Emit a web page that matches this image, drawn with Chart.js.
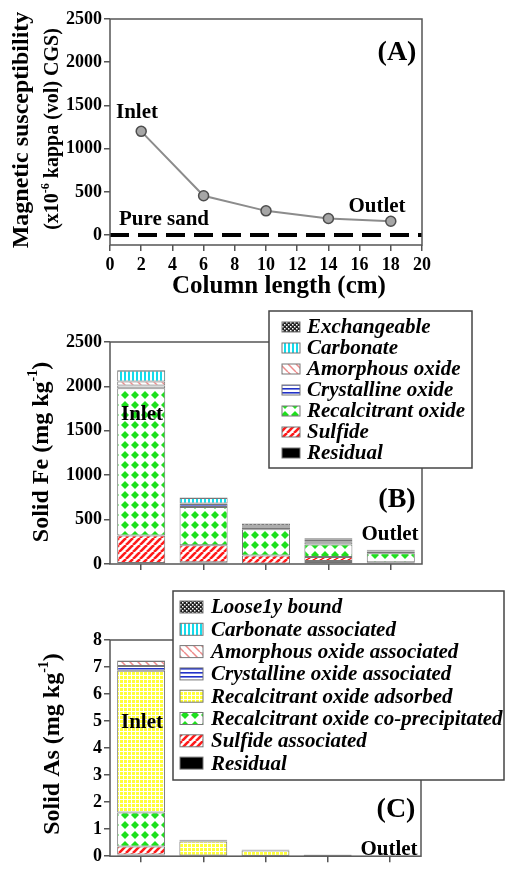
<!DOCTYPE html>
<html>
<head>
<meta charset="utf-8">
<script src="https://cdn.jsdelivr.net/npm/chart.js@4.4.1/dist/chart.umd.min.js"></script>
<style>
  body { margin: 0; background: #fff; }
  .panel { position: absolute; left: 0; }
</style>
</head>
<body>
<canvas id="chartA" class="panel" width="505" height="300" style="top:0"></canvas>
<canvas id="chartB" class="panel" width="505" height="280" style="top:300px"></canvas>
<canvas id="chartC" class="panel" width="505" height="289" style="top:580px"></canvas>
<script>
// (A) magnetic susceptibility along the column
const columnLength = [2, 6, 10, 14, 18];
const susceptibility = [1200, 455, 280, 192, 160];
const pureSand = 0;
const susceptibilityTicks = [0, 500, 1000, 1500, 2000, 2500];

// (B) and (C) column sections (cm), one bar each
const sections = [2, 6, 10, 14, 18];

// (B) solid Fe fractions, mg/kg
const feResidual     = [10, 20, 5, 35, 5];
const feSulfide      = [310, 192, 90, 45, 15];
const feRecalcitrant = [1660, 430, 295, 140, 100];
const feCrystalline  = [30, 35, 25, 25, 20];
const feAmorphous    = [45, 5, 5, 10, 5];
const feCarbonate    = [120, 60, 10, 25, 5];
const feExchangeable = [10, 8, 25, 10, 10];

// (C) solid As fractions, mg/kg
const asResidual    = [0.06, 0.01, 0.005, 0.005, 0];
const asSulfide     = [0.30, 0.01, 0.005, 0.003, 0];
const asCoprecip    = [1.26, 0.01, 0.01, 0.005, 0];
const asAdsorbed    = [5.24, 0.51, 0.19, 0.04, 0];
const asCrystalline = [0.18, 0.05, 0.02, 0.006, 0];
const asAmorphous   = [0.18, 0.01, 0.01, 0.003, 0];
const asCarbonate   = [0.02, 0.005, 0.003, 0.002, 0];
const asLoosely     = [0.01, 0.005, 0.002, 0.001, 0];

const SERIF = '"Liberation Serif", "Times New Roman", serif';
Chart.defaults.font.family = SERIF;
const tickFont = { family: SERIF, size: 18, weight: 'bold' };
const plainNumber = v => String(v);

// fill patterns, like the old spreadsheet hatches
function makePattern(kind) {
  const c = document.createElement('canvas');
  const g = c.getContext('2d');
  let w = 8, h = 8;
  if (kind === 'diamond') { w = 10; h = 10; }
  if (kind === 'sulfide') { w = 7; h = 7; }
  if (kind === 'carbonate') { w = 4; h = 1; }
  if (kind === 'crystal') { w = 1; h = 4; }
  if (kind === 'checker' || kind === 'yellow') { w = 4; h = 4; }
  c.width = w; c.height = h;
  g.fillStyle = '#fff';
  g.fillRect(0, 0, w, h);
  if (kind === 'diamond') {
    g.fillStyle = '#1ee01e';
    g.beginPath();
    g.moveTo(5, 1); g.lineTo(9, 5); g.lineTo(5, 9); g.lineTo(1, 5);
    g.closePath(); g.fill();
  } else if (kind === 'sulfide') {
    g.strokeStyle = '#ff1a1a'; g.lineWidth = 2.6;
    for (const k of [-7, 0, 7]) { g.beginPath(); g.moveTo(k, 7); g.lineTo(k + 7, 0); g.stroke(); }
  } else if (kind === 'amorph') {
    g.strokeStyle = '#ee8a8a'; g.lineWidth = 1.5;
    for (const k of [-8, 0, 8]) { g.beginPath(); g.moveTo(k, 0); g.lineTo(k + 8, 8); g.stroke(); }
  } else if (kind === 'carbonate') {
    g.fillStyle = '#14dcec'; g.fillRect(0, 0, 2, 1);
  } else if (kind === 'crystal') {
    g.fillStyle = '#2232c8'; g.fillRect(0, 0, 1, 1.6);
  } else if (kind === 'checker') {
    g.fillStyle = '#222'; g.fillRect(0, 0, 4, 4);
    g.fillStyle = '#fff'; g.fillRect(0, 0, 1.5, 1.5); g.fillRect(2, 2, 1.5, 1.5);
  } else if (kind === 'yellow') {
    g.fillStyle = '#ffff3a'; g.fillRect(0, 0, 3, 3);
  }
  return g.createPattern(c, 'repeat');
}

const pat = {
  diamond: makePattern('diamond'),
  sulfide: makePattern('sulfide'),
  amorph: makePattern('amorph'),
  carbonate: makePattern('carbonate'),
  crystal: makePattern('crystal'),
  checker: makePattern('checker'),
  yellow: makePattern('yellow')
};

function drawRich(ctx, parts, cx, cy, rotate) {
  ctx.save();
  ctx.translate(cx, cy);
  if (rotate) ctx.rotate(-Math.PI / 2);
  let total = 0;
  parts.forEach(p => { ctx.font = p.font; p.w = ctx.measureText(p.text).width; total += p.w; });
  let x = -total / 2;
  ctx.textBaseline = 'middle';
  ctx.textAlign = 'left';
  ctx.fillStyle = '#000';
  parts.forEach(p => { ctx.font = p.font; ctx.fillText(p.text, x, p.dy || 0); x += p.w; });
  ctx.restore();
}

function label(ctx, text, x, y, size, style) {
  ctx.save();
  ctx.font = (style || 'bold') + ' ' + size + 'px ' + SERIF;
  ctx.fillStyle = '#000';
  ctx.textAlign = 'center';
  ctx.textBaseline = 'middle';
  ctx.fillText(text, x, y);
  ctx.restore();
}

function drawFrame(chart) {
  const a = chart.chartArea, ctx = chart.ctx;
  ctx.save();
  ctx.strokeStyle = '#555';
  ctx.lineWidth = 1.5;
  ctx.strokeRect(a.left, a.top, a.right - a.left, a.bottom - a.top);
  ctx.restore();
}

function drawLegend(chart, box) {
  const ctx = chart.ctx;
  const items = chart.data.datasets.slice().reverse();
  ctx.save();
  ctx.fillStyle = '#fff';
  ctx.fillRect(box.x, box.y, box.w, box.h);
  ctx.strokeStyle = '#444';
  ctx.lineWidth = 1.5;
  ctx.strokeRect(box.x, box.y, box.w, box.h);
  ctx.font = 'italic bold 21px ' + SERIF;
  ctx.textBaseline = 'middle';
  ctx.textAlign = 'left';
  items.forEach((ds, i) => {
    const y = box.firstY + i * box.step;
    ctx.fillStyle = ds.backgroundColor;
    ctx.fillRect(box.swX, y - box.swH / 2, box.swW, box.swH);
    ctx.strokeStyle = '#777';
    ctx.lineWidth = 1;
    ctx.strokeRect(box.swX, y - box.swH / 2, box.swW, box.swH);
    ctx.fillStyle = '#000';
    ctx.fillText(ds.label, box.textX, y + 1);
  });
  ctx.restore();
}

function superTitle(main, sup, tail, size) {
  return [
    { text: main, font: 'bold ' + size + 'px ' + SERIF },
    { text: sup, font: 'bold ' + Math.round(size * 0.6) + 'px ' + SERIF, dy: -size * 0.35 },
    { text: tail, font: 'bold ' + size + 'px ' + SERIF }
  ];
}

const axisGrid = { drawOnChartArea: false, tickLength: 6, color: '#555', lineWidth: 1.5 };

// ---------- (A) ----------
new Chart(document.getElementById('chartA'), {
  type: 'line',
  data: {
    datasets: [
      {
        label: 'Magnetic susceptibility',
        data: columnLength.map((x, i) => ({ x: x, y: susceptibility[i] })),
        borderColor: '#8c8c8c', borderWidth: 2,
        pointRadius: 5, pointBackgroundColor: '#a6a6a6',
        pointBorderColor: '#4d4d4d', pointBorderWidth: 1.5
      },
      {
        label: 'Pure sand',
        data: [{ x: 0, y: pureSand }, { x: 20, y: pureSand }],
        borderColor: '#000', borderWidth: 4, borderDash: [19, 9], pointRadius: 0
      }
    ]
  },
  options: {
    responsive: false, animation: false, devicePixelRatio: 1,
    layout: { padding: { top: 19, right: 83, left: 0, bottom: 0 } },
    plugins: { legend: { display: false }, tooltip: { enabled: false } },
    scales: {
      x: {
        type: 'linear', min: 0, max: 20,
        ticks: { stepSize: 2, font: tickFont, color: '#000', padding: 4, callback: plainNumber },
        grid: axisGrid, border: { display: false },
        afterFit(s) { s.height = 55; }
      },
      y: {
        min: -115, max: 2500,
        afterBuildTicks(s) { s.ticks = susceptibilityTicks.map(v => ({ value: v })); },
        ticks: { font: tickFont, color: '#000', padding: 2, callback: plainNumber },
        grid: axisGrid, border: { display: false },
        afterFit(s) { s.width = 110; }
      }
    }
  },
  plugins: [{
    id: 'decorA',
    afterDatasetsDraw(chart) { drawFrame(chart); },
    afterDraw(chart) {
      const ctx = chart.ctx;
      label(ctx, 'Inlet', 137, 113, 21);
      label(ctx, 'Outlet', 377, 207, 21);
      label(ctx, 'Pure sand', 164, 220, 21);
      label(ctx, '(A)', 397, 53, 28);
      label(ctx, 'Column length (cm)', 279, 287, 25);
      drawRich(ctx, [{ text: 'Magnetic susceptibility', font: 'bold 24px ' + SERIF }], 22, 130, true);
      drawRich(ctx, superTitle('(x10', '-6', ' kappa (vol) CGS)', 20), 53, 129, true);
    }
  }]
});

// ---------- (B) ----------
new Chart(document.getElementById('chartB'), {
  type: 'bar',
  data: {
    labels: sections,
    datasets: [
      { label: 'Residual', data: feResidual, backgroundColor: '#000' },
      { label: 'Sulfide', data: feSulfide, backgroundColor: pat.sulfide },
      { label: 'Recalcitrant oxide', data: feRecalcitrant, backgroundColor: pat.diamond },
      { label: 'Crystalline oxide', data: feCrystalline, backgroundColor: pat.crystal },
      { label: 'Amorphous oxide', data: feAmorphous, backgroundColor: pat.amorph },
      { label: 'Carbonate', data: feCarbonate, backgroundColor: pat.carbonate },
      { label: 'Exchangeable', data: feExchangeable, backgroundColor: pat.checker }
    ]
  },
  options: {
    responsive: false, animation: false, devicePixelRatio: 1,
    layout: { padding: { top: 42, right: 83, left: 0, bottom: 0 } },
    datasets: { bar: { barPercentage: 0.77, categoryPercentage: 1, borderWidth: 1, borderColor: '#777', borderSkipped: false } },
    plugins: { legend: { display: false }, tooltip: { enabled: false } },
    scales: {
      x: {
        stacked: true,
        ticks: { callback: () => '' },
        grid: Object.assign({ offset: false }, axisGrid), border: { display: false },
        afterFit(s) { s.height = 16; }
      },
      y: {
        stacked: true, min: 0, max: 2500,
        ticks: { stepSize: 500, font: tickFont, color: '#000', padding: 2, callback: plainNumber },
        grid: axisGrid, border: { display: false },
        afterFit(s) { s.width = 110; }
      }
    }
  },
  plugins: [{
    id: 'decorB',
    afterDatasetsDraw(chart) { drawFrame(chart); },
    afterDraw(chart) {
      const ctx = chart.ctx;
      label(ctx, 'Inlet', 142, 115, 21);
      label(ctx, '(B)', 397, 200, 28);
      label(ctx, 'Outlet', 390, 235, 21);
      drawRich(ctx, superTitle('Solid Fe (mg kg', '-1', ')', 24), 42, 152, true);
      drawLegend(chart, { x: 269, y: 11, w: 203, h: 157, firstY: 27, step: 21, swX: 282, swW: 18, swH: 10, textX: 307 });
    }
  }]
});

// ---------- (C) ----------
new Chart(document.getElementById('chartC'), {
  type: 'bar',
  data: {
    labels: sections,
    datasets: [
      { label: 'Residual', data: asResidual, backgroundColor: '#000' },
      { label: 'Sulfide associated', data: asSulfide, backgroundColor: pat.sulfide },
      { label: 'Recalcitrant oxide co-precipitated', data: asCoprecip, backgroundColor: pat.diamond },
      { label: 'Recalcitrant oxide adsorbed', data: asAdsorbed, backgroundColor: pat.yellow },
      { label: 'Crystalline oxide associated', data: asCrystalline, backgroundColor: pat.crystal },
      { label: 'Amorphous oxide associated', data: asAmorphous, backgroundColor: pat.amorph },
      { label: 'Carbonate associated', data: asCarbonate, backgroundColor: pat.carbonate },
      { label: 'Loose1y bound', data: asLoosely, backgroundColor: pat.checker }
    ]
  },
  options: {
    responsive: false, animation: false, devicePixelRatio: 1,
    layout: { padding: { top: 60, right: 84, left: 0, bottom: 0 } },
    datasets: { bar: { barPercentage: 0.77, categoryPercentage: 1, borderWidth: 1, borderColor: '#777', borderSkipped: false } },
    plugins: { legend: { display: false }, tooltip: { enabled: false } },
    scales: {
      x: {
        stacked: true,
        ticks: { callback: () => '' },
        grid: Object.assign({ offset: false }, axisGrid), border: { display: false },
        afterFit(s) { s.height = 7; }
      },
      y: {
        stacked: true, min: 0, max: 8,
        ticks: { stepSize: 1, font: tickFont, color: '#000', padding: 2, callback: plainNumber },
        grid: axisGrid, border: { display: false },
        afterFit(s) { s.width = 110; }
      }
    }
  },
  plugins: [{
    id: 'decorC',
    afterDatasetsDraw(chart) { drawFrame(chart); },
    afterDraw(chart) {
      const ctx = chart.ctx;
      label(ctx, 'Inlet', 142, 143, 21);
      label(ctx, '(C)', 396, 230, 28);
      label(ctx, 'Outlet', 389, 270, 21);
      drawRich(ctx, superTitle('Solid As (mg kg', '-1', ')', 24), 53, 164, true);
      drawLegend(chart, { x: 173, y: 11, w: 331, h: 189, firstY: 27, step: 22.3, swX: 180, swW: 23, swH: 12, textX: 211 });
    }
  }]
});
</script>
</body>
</html>
